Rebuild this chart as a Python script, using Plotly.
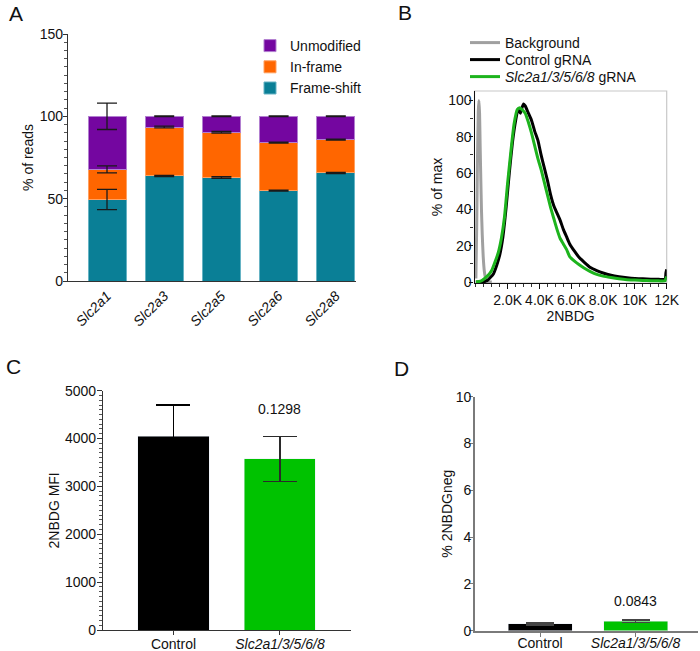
import numpy as np
import plotly.graph_objects as go

# ---------------- Data ----------------
# Panel A: CRISPR editing outcomes (% of reads)
GENES = ["Slc2a1", "Slc2a3", "Slc2a5", "Slc2a6", "Slc2a8"]
FRAMESHIFT = [49.5, 63.8, 62.8, 54.9, 65.6]
INFRAME = [18.3, 29.7, 27.5, 29.1, 20.2]
UNMODIFIED = [32.2, 6.5, 9.7, 16.0, 14.2]
FRAMESHIFT_SD = [6.1, 0.4, 0.5, 0.3, 0.4]
INFRAME_SD = [2.1, 0.5, 0.5, 0.3, 0.3]
UNMODIFIED_SD = [8.0, 0.2, 0.2, 0.2, 0.2]

# Panel B: 2NBDG histograms (% of max)
BG_X = [0, 50, 100, 150, 190, 230, 270, 310, 350, 400, 460, 530, 620, 750, 1000]
BG_Y = [2, 30, 68, 94, 100, 93, 74, 56, 40, 26, 14, 6, 2, 0.3, 0]

CTRL_X = [0, 400, 700, 900, 1100, 1300, 1500, 1700, 1900, 2100, 2300, 2500, 2650,
          2800, 2900, 3000, 3100, 3300, 3500, 3700, 3900, 4100, 4300, 4500, 4700,
          4900, 5100, 5300, 5500, 5700, 5900, 6200, 6500, 6800, 7200, 7600, 8000,
          8500, 9000, 9500, 10000, 10500, 11000, 11500, 11900, 11950, 12000]
CTRL_Y = [0, 0, 0.8, 2.5, 4.5, 9, 15, 25, 41, 60, 77, 89, 95,
          93, 96, 98, 97, 93, 89, 83, 78, 70, 63, 56, 48,
          42, 38, 34, 29, 25, 21, 17, 13.5, 11, 8, 6.3, 5,
          3.8, 3, 2.4, 2, 1.8, 1.6, 1.5, 1.5, 5, 7]

KO_X = [0, 300, 550, 800, 1000, 1200, 1400, 1600, 1800, 2000, 2200, 2400, 2600,
        2750, 2900, 3100, 3300, 3500, 3700, 3900, 4100, 4300, 4500, 4700, 4900,
        5100, 5300, 5500, 5700, 5900, 6200, 6500, 6800, 7200, 7600, 8000, 8500,
        9000, 9500, 10000, 10500, 11000, 11500, 11900, 11950, 12000]
KO_Y = [0, 0.5, 2, 4, 6.5, 11, 16, 24, 36, 55, 72, 87, 95,
        96, 95, 93, 88, 82, 75, 68, 62, 55, 48, 41, 35,
        29, 24, 21, 18, 14, 11.5, 9.5, 7.8, 5.8, 4.2, 3.3, 2.5,
        1.8, 1.3, 1.1, 0.9, 0.8, 0.7, 0.7, 2, 3]

B_TICKVALS = [2000, 4000, 6000, 8000, 10000, 12000]
B_TICKTEXT = ["2.0K", "4.0K", "6.0K", "8.0K", "10K", "12K"]

# Panel C: 2NBDG MFI
GROUPS = ["Control", "Slc2a1/3/5/6/8"]
GROUP_LABELS = ["Control", "<i>Slc2a1/3/5/6/8</i>"]
MFI = [4050, 3580]
MFI_SD = [650, 470]
MFI_P = "0.1298"

# Panel D: % 2NBDG negative
NEG = [0.29, 0.41]
NEG_SD = [0.04, 0.05]
NEG_P = "0.0843"

# ---------------- Styling ----------------
W, H = 700, 651
FONT = "Liberation Sans, Arial, Helvetica, sans-serif"
PURPLE, ORANGE, TEAL = "#7406A0", "#FF6600", "#0A7F96"
GREEN_BAR, GREEN_LINE = "#00C200", "#1DB41D"
BAR_COLORS = ["#000000", GREEN_BAR]
ERR_COLORS = ["#000000", "#2a2a2a"]


def px_x(p):
    return p / W


def px_y(p):
    return 1 - p / H


fig = go.Figure()

# ---- Panel A (stacked bars) ----
stack_specs = [("Frame-shift", FRAMESHIFT, FRAMESHIFT_SD, TEAL, "#66B3C4"),
               ("In-frame", INFRAME, INFRAME_SD, ORANGE, "#FFA060"),
               ("Unmodified", UNMODIFIED, UNMODIFIED_SD, PURPLE, "#B27FD0")]
for name, vals, _, col, edge in stack_specs:
    fig.add_trace(go.Bar(x=GENES, y=vals, name=name, marker_color=col,
                         marker_line=dict(color=edge, width=1), width=0.664,
                         xaxis="x", yaxis="y", legend="legend"))
cum = np.zeros(len(GENES))
for name, vals, sd, col, edge in stack_specs:
    cum = cum + np.array(vals)
    fig.add_trace(go.Scatter(x=GENES, y=cum.tolist(), mode="markers",
                             marker=dict(size=1, opacity=0), showlegend=False,
                             hoverinfo="skip", xaxis="x", yaxis="y",
                             error_y=dict(type="data", array=sd, color="#1a1a1a",
                                          thickness=1.3, width=10)))

# ---- Panel B (histograms), one legend per entry for tight row spacing ----
b_specs = [("Background", BG_X, BG_Y, "#A0A0A0", "legend2"),
           ("Control gRNA", CTRL_X, CTRL_Y, "#000000", "legend3"),
           ("<i>Slc2a1/3/5/6/8</i> gRNA", KO_X, KO_Y, GREEN_LINE, "legend4")]
for name, xs, ys, col, leg in b_specs:
    fig.add_trace(go.Scatter(x=xs, y=ys, mode="lines", name=name,
                             line=dict(color=col, width=3, shape="spline", smoothing=0.5),
                             xaxis="x2", yaxis="y2", legend=leg))

# ---- Panel C ----
for g, v, sd, bc, ec in zip(GROUPS, MFI, MFI_SD, BAR_COLORS, ERR_COLORS):
    fig.add_trace(go.Bar(x=[g], y=[v], marker_color=bc, width=0.667,
                         showlegend=False, xaxis="x3", yaxis="y3",
                         error_y=dict(type="data", array=[sd], color=ec,
                                      thickness=1.3, width=17)))

# ---- Panel D ----
for g, v, sd, bc in zip(GROUPS, NEG, NEG_SD, BAR_COLORS):
    fig.add_trace(go.Bar(x=[g], y=[v], marker_color=bc, width=0.67,
                         showlegend=False, xaxis="x4", yaxis="y4",
                         error_y=dict(type="data", array=[sd], color="#444",
                                      thickness=1.3, width=14)))

tickfont = dict(family=FONT, size=14, color="#111")
titlefont = dict(family=FONT, size=14, color="#111")
legfont = dict(family=FONT, size=14, color="#111")


def b_legend(ypx):
    return dict(x=px_x(465), y=px_y(ypx), xanchor="left", yanchor="middle",
                font=legfont, bgcolor="rgba(0,0,0,0)", itemwidth=30,
                itemclick=False, itemdoubleclick=False)


layout = dict(
    width=W, height=H, autosize=False,
    margin=dict(l=0, r=0, t=0, b=0, pad=0, autoexpand=False),
    paper_bgcolor="white", plot_bgcolor="rgba(0,0,0,0)",
    barmode="stack",
    font=dict(family=FONT, size=14, color="#111"),
    # Panel A axes
    xaxis=dict(domain=[px_x(68), px_x(356)], anchor="y", type="category",
               range=[-0.682, 4.353], tickvals=GENES,
               ticktext=["<i>%s</i>" % g for g in GENES], tickangle=-45,
               tickfont=tickfont, showline=True, linecolor="#333", linewidth=1.3,
               ticks="", showgrid=False, zeroline=False, automargin=False),
    yaxis=dict(domain=[px_y(281), px_y(34)], anchor="x", range=[0, 150],
               tickvals=[0, 50, 100, 150], tickfont=tickfont, showline=True,
               linecolor="#333", linewidth=1.3, ticks="outside", ticklen=4,
               ticklabelstandoff=-3,
               tickcolor="#333", showgrid=False, zeroline=False, automargin=False,
               minor=dict(dtick=5, ticks="outside", ticklen=2.5, tickcolor="#555"),
               title=dict(text="% of reads", font=titlefont, standoff=2)),
    # Panel B axes
    xaxis2=dict(domain=[px_x(474.5), px_x(666.7)], anchor="y2", range=[-88, 12000],
                tickvals=B_TICKVALS, ticktext=B_TICKTEXT, tickangle=0, tickfont=tickfont,
                showline=True, linecolor="#111", linewidth=1.3, ticks="outside",
                ticklen=5, tickcolor="#111", showgrid=False, zeroline=False,
                ticklabelstandoff=-1, automargin=False,
                minor=dict(dtick=500, tick0=0, ticks="outside", ticklen=3, tickcolor="#333"),
                title=dict(text="2NBDG", font=titlefont, standoff=4)),
    yaxis2=dict(domain=[px_y(283), px_y(91)], anchor="x2", range=[-0.5, 105.2],
                tickvals=[0, 20, 40, 60, 80, 100], tickfont=tickfont, showline=True,
                linecolor="#111", linewidth=1.3, ticks="outside", ticklen=4,
                ticklabelstandoff=-5,
                tickcolor="#111", showgrid=False, zeroline=False, automargin=False,
                minor=dict(dtick=10, ticks="outside", ticklen=3, tickcolor="#333"),
                title=dict(text="% of max", font=titlefont, standoff=2)),
    # Panel C axes
    xaxis3=dict(domain=[px_x(103), px_x(351)], anchor="y3", type="category",
                range=[-0.662, 1.667], tickvals=GROUPS, ticktext=GROUP_LABELS,
                tickangle=0, tickfont=tickfont, showline=True, linecolor="#333",
                linewidth=1.3, ticks="outside", ticklen=4, tickcolor="#333",
                ticklabelstandoff=-3,
                showgrid=False, zeroline=False, automargin=False),
    yaxis3=dict(domain=[px_y(630), px_y(390.7)], anchor="x3", range=[0, 5000],
                dtick=1000, tickfont=tickfont, showline=True, linecolor="#333",
                linewidth=1.3, ticks="outside", ticklen=5, tickcolor="#333",
                ticklabelstandoff=-2,
                showgrid=False, zeroline=False, automargin=False,
                minor=dict(dtick=100, ticks="outside", ticklen=2.5, tickcolor="#555"),
                title=dict(text="2NBDG MFI", font=titlefont, standoff=1)),
    # Panel D axes
    xaxis4=dict(domain=[px_x(475), px_x(698)], anchor="y4", type="category",
                range=[-0.681, 1.654], tickvals=GROUPS, ticktext=GROUP_LABELS,
                tickangle=0, tickfont=tickfont, showline=True, linecolor="#7a7a7a",
                linewidth=1.6, ticks="outside", ticklen=4, tickcolor="#7a7a7a",
                ticklabelstandoff=-5,
                showgrid=False, zeroline=False, automargin=False),
    yaxis4=dict(domain=[px_y(630.7), px_y(396.7)], anchor="x4", range=[0, 10],
                dtick=2, tickfont=tickfont, showline=True, linecolor="#7a7a7a",
                linewidth=1.6, ticks="outside", ticklen=4, tickcolor="#7a7a7a",
                ticklabelstandoff=-5,
                showgrid=False, zeroline=False, automargin=False,
                title=dict(text="% 2NBDGneg", font=titlefont, standoff=0)),
    legend=dict(x=px_x(250), y=px_y(30), xanchor="left", yanchor="top",
                traceorder="reversed", font=legfont,
                bgcolor="rgba(0,0,0,0)", itemwidth=30, itemclick=False,
                itemdoubleclick=False),
    legend2=b_legend(43),
    legend3=b_legend(60),
    legend4=b_legend(77),
    shapes=[dict(type="rect", xref="x2 domain", yref="y2 domain", x0=0, x1=1,
                 y0=0, y1=1, line=dict(color="#c8c8c8", width=1.2), layer="below")],
    annotations=[
        dict(text="A", x=px_x(7), y=px_y(14), xref="paper", yref="paper",
             xanchor="left", yanchor="middle", showarrow=False,
             font=dict(family=FONT, size=21, color="#111")),
        dict(text="B", x=px_x(396), y=px_y(12), xref="paper", yref="paper",
             xanchor="left", yanchor="middle", showarrow=False,
             font=dict(family=FONT, size=21, color="#111")),
        dict(text="C", x=px_x(4), y=px_y(366), xref="paper", yref="paper",
             xanchor="left", yanchor="middle", showarrow=False,
             font=dict(family=FONT, size=21, color="#111")),
        dict(text="D", x=px_x(392), y=px_y(368), xref="paper", yref="paper",
             xanchor="left", yanchor="middle", showarrow=False,
             font=dict(family=FONT, size=21, color="#111")),
        dict(text=MFI_P, x=GROUPS[1], y=4620, xref="x3", yref="y3",
             showarrow=False, font=dict(family=FONT, size=14, color="#111")),
        dict(text=NEG_P, x=GROUPS[1], y=1.27, xref="x4", yref="y4",
             showarrow=False, font=dict(family=FONT, size=14, color="#111")),
    ],
)
fig.update_layout(**layout)
fig.write_html("out.html", config={"responsive": False, "displayModeBar": False},
               post_script="document.body.style.margin='0px';"
                           "document.body.style.padding='0px';"
                           "document.documentElement.style.overflow='hidden';")
